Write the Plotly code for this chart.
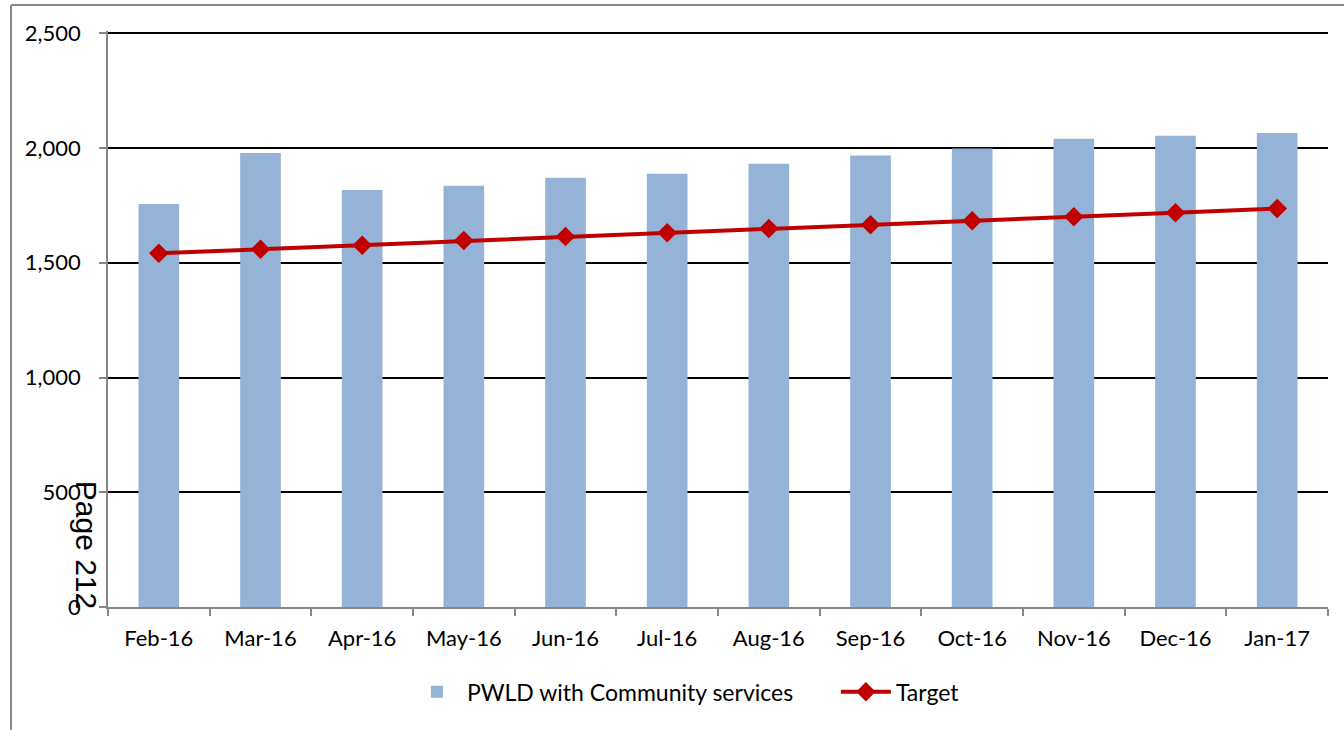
import plotly.graph_objects as go

months = ["Feb-16", "Mar-16", "Apr-16", "May-16", "Jun-16", "Jul-16",
          "Aug-16", "Sep-16", "Oct-16", "Nov-16", "Dec-16", "Jan-17"]
pwld = [1756, 1978, 1817, 1836, 1871, 1888, 1932, 1967, 1998, 2040, 2053, 2066]
target = [1541, 1559, 1576, 1597, 1614, 1631, 1649, 1666, 1683, 1701, 1718, 1736]
y_ticks = [0, 500, 1000, 1500, 2000, 2500]

font = "Lato, Open Sans, sans-serif"

fig = go.Figure()
fig.add_trace(go.Bar(x=months, y=pwld, name="PWLD with Community services",
                     marker=dict(color="#95b3d7", line=dict(width=0))))
fig.add_trace(go.Scatter(x=months, y=target, name="Target", mode="lines+markers",
                         line=dict(color="#c00000", width=4),
                         marker=dict(symbol="diamond", size=15, color="#c00000")))

fig.update_layout(
    width=1344, height=730,
    margin=dict(l=108, r=16, t=31, b=123, autoexpand=False),
    paper_bgcolor="white", plot_bgcolor="white",
    bargap=0.6,
    font=dict(family=font, size=22, color="black"),
    showlegend=True,
    legend=dict(orientation="h", x=0.245, xanchor="left", y=-0.11, yanchor="top",
                font=dict(size=23), traceorder="normal", itemwidth=50,
                entrywidth=364, entrywidthmode="pixels",
                tracegroupgap=0),
)
fig.update_xaxes(range=[-0.5, len(months) - 0.5],
                 showline=True, linecolor="#868686", linewidth=1.5,
                 ticks="outside", tickson="boundaries", ticklen=7, tickcolor="#868686",
                 tickwidth=1.5, showgrid=False, ticklabelstandoff=11)
fig.update_yaxes(range=[0, 2510], tickvals=y_ticks, tickformat=",",
                 showline=True, linecolor="#868686", linewidth=1.5,
                 ticks="outside", ticklen=7, tickcolor="#868686", tickwidth=1.5,
                 showgrid=True, gridcolor="black", gridwidth=1.5,
                 zeroline=False, ticklabelstandoff=14, tickfont=dict(size=22))

# outer chart frame (left and top edges visible)
fig.add_shape(type="line", xref="paper", yref="paper", x0=-0.0795, x1=-0.0795,
              y0=-0.25, y1=1.045, line=dict(color="#8a8a8a", width=2))
fig.add_shape(type="line", xref="paper", yref="paper", x0=-0.0795, x1=1.1,
              y0=1.045, y1=1.045, line=dict(color="#8a8a8a", width=2))

fig.add_annotation(text="Page 212", xref="paper", yref="paper",
                   x=-0.018, y=0.108, xanchor="center", yanchor="middle",
                   showarrow=False, textangle=90,
                   font=dict(family="Liberation Sans, Arial", size=30, color="black"))

fig.write_html("out.html")
